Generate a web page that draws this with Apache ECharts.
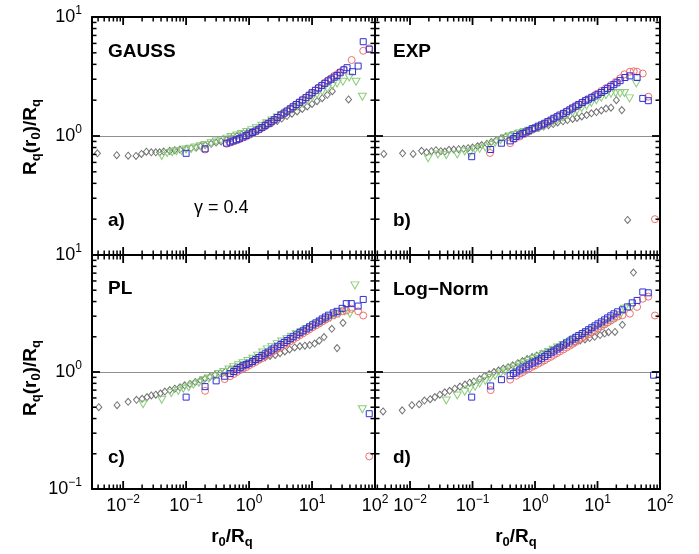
<!DOCTYPE html>
<html><head><meta charset="utf-8">
<script src="https://cdn.jsdelivr.net/npm/echarts@6/dist/echarts.min.js"></script>
<style>html,body{margin:0;padding:0;background:#fff}#c{width:699px;height:554px}</style>
</head><body><div id="c"></div>
<script>
// ---------------- data (x = r0/Rq, y = Rq(r0)/Rq) ----------------
const panelNames = ['GAUSS', 'EXP', 'PL', 'Log\u2212Norm'];
const panelTags = ['a)', 'b)', 'c)', 'd)'];
const gammaLabel = '\u03b3 = 0.4';
const xTickExponents = [-2, -1, 0, 1, 2];
const yTickExponents = [-1, 0, 1];

// Panel a) GAUSS
const gaussDiamond = [[0.0039,0.715],[0.0079,0.69],[0.012,0.683],[0.016,0.68],[0.0195,0.706],[0.0234,0.738],[0.028,0.73],[0.033,0.73],[0.038,0.73],[0.044,0.74],[0.055,0.75],[0.066,0.76],[0.08,0.77],[0.1,0.78],[0.12,0.79],[0.145,0.8],[0.17,0.82],[0.2,0.84],[0.25,0.86],[0.3,0.88],[0.36,0.9],[0.44,0.93],[0.52,0.96],[0.64,1.0],[0.76,1.03],[0.92,1.06],[1.1,1.08],[1.3,1.12],[1.6,1.17],[1.9,1.22],[2.3,1.28],[2.8,1.34],[3.3,1.4],[4.0,1.47],[4.8,1.54],[5.8,1.61],[7.0,1.69],[8.4,1.77],[10,1.86],[12,1.96],[14.5,2.08],[17.5,2.22],[21,2.38],[38,2.03]];
const gaussTriangle = [[0.041,0.68],[0.05,0.72],[0.06,0.73],[0.07,0.745],[0.085,0.75],[0.1,0.77],[0.12,0.78],[0.14,0.8],[0.17,0.82],[0.2,0.84],[0.25,0.87],[0.3,0.9],[0.36,0.92],[0.44,0.95],[0.52,0.98],[0.64,1.01],[0.76,1.04],[0.92,1.08],[1.1,1.12],[1.3,1.16],[1.6,1.22],[1.9,1.28],[2.3,1.35],[2.8,1.43],[3.3,1.5],[4.0,1.58],[4.8,1.67],[5.8,1.77],[7.0,1.88],[8.4,1.99],[10,2.1],[12,2.23],[14.5,2.37],[17.5,2.5],[21,2.64],[25,2.76],[31,2.86],[39,3.1],[50,2.86],[63,2.14]];
const gaussCircle = [[0.2,0.77],[0.44,0.86],[0.5,0.88],[0.56,0.9],[0.63,0.92],[0.7,0.94],[0.8,0.97],[0.9,0.99],[1.0,1.02],[1.13,1.05],[1.27,1.09],[1.43,1.13],[1.6,1.17],[1.8,1.21],[2.0,1.26],[2.25,1.31],[2.5,1.36],[2.8,1.42],[3.2,1.49],[3.6,1.55],[4.0,1.62],[4.5,1.69],[5.0,1.76],[5.6,1.84],[6.3,1.92],[7.1,2.0],[8.0,2.1],[9.0,2.2],[10,2.3],[11.3,2.42],[12.7,2.55],[14.3,2.67],[16,2.8],[18,2.93],[20,3.05],[22.5,3.2],[25,3.3],[28,3.45],[32,3.6],[42.6,4.35],[65,5.2],[81,5.45]];
const gaussSquare = [[0.1,0.715],[0.2,0.78],[0.44,0.87],[0.5,0.89],[0.56,0.91],[0.63,0.93],[0.7,0.95],[0.8,0.98],[0.9,1.01],[1.0,1.04],[1.13,1.07],[1.27,1.1],[1.43,1.14],[1.6,1.18],[1.8,1.23],[2.0,1.27],[2.25,1.32],[2.5,1.37],[2.8,1.43],[3.2,1.5],[3.6,1.56],[4.0,1.62],[4.5,1.69],[5.0,1.76],[5.6,1.84],[6.3,1.92],[7.1,2.01],[8.0,2.1],[9.0,2.2],[10,2.31],[11.3,2.42],[12.7,2.53],[14.3,2.65],[16,2.77],[18,2.9],[20,3.0],[22.5,3.12],[25,3.22],[28,3.4],[32,3.6],[36,3.75],[44,3.47],[54,3.87],[65,6.2],[81,5.36]];

// Panel b) EXP
const expDiamond = [[0.0038,0.706],[0.0076,0.715],[0.0112,0.706],[0.0153,0.75],[0.0184,0.73],[0.022,0.745],[0.026,0.76],[0.031,0.745],[0.036,0.74],[0.042,0.765],[0.05,0.77],[0.06,0.775],[0.072,0.78],[0.085,0.79],[0.1,0.8],[0.12,0.82],[0.14,0.84],[0.17,0.86],[0.2,0.89],[0.24,0.92],[0.29,0.96],[0.34,0.99],[0.4,1.01],[0.48,1.04],[0.57,1.06],[0.68,1.09],[0.8,1.11],[0.96,1.14],[1.15,1.17],[1.37,1.2],[1.64,1.23],[1.95,1.26],[2.3,1.3],[2.8,1.33],[3.3,1.36],[4.0,1.39],[4.7,1.42],[5.6,1.46],[6.7,1.5],[8.0,1.55],[9.6,1.59],[11.5,1.64],[13.7,1.7],[16.4,1.73],[20,2.0],[24.5,1.65],[30.3,0.197]];
const expTriangle = [[0.0195,0.65],[0.028,0.7],[0.038,0.69],[0.057,0.7],[0.075,0.74],[0.09,0.72],[0.11,0.77],[0.13,0.78],[0.16,0.8],[0.19,0.84],[0.23,0.88],[0.28,0.92],[0.33,0.96],[0.4,0.99],[0.48,1.02],[0.57,1.05],[0.68,1.08],[0.8,1.11],[0.96,1.14],[1.15,1.18],[1.37,1.22],[1.64,1.27],[1.95,1.32],[2.3,1.37],[2.8,1.43],[3.3,1.5],[4.0,1.57],[4.7,1.64],[5.6,1.72],[6.7,1.8],[8.0,1.9],[9.6,2.0],[11.5,2.1],[13.7,2.2],[16.4,2.27],[19.5,2.3],[23,2.28],[27,2.3],[32.5,2.07],[41.7,2.77]];
const expCircle = [[0.19,0.72],[0.4,0.87],[0.48,0.95],[0.57,0.99],[0.68,1.04],[0.8,1.09],[0.96,1.15],[1.15,1.2],[1.37,1.26],[1.64,1.32],[1.95,1.39],[2.3,1.46],[2.8,1.54],[3.3,1.62],[4.0,1.71],[4.7,1.8],[5.6,1.9],[6.7,2.01],[8.0,2.12],[9.6,2.25],[11.5,2.39],[13.7,2.53],[16.4,2.68],[19.5,2.85],[23,3.05],[27,3.3],[33,3.47],[38,3.5],[43,3.47],[53,3.35],[65,2.14],[83,0.2]];
const expSquare = [[0.097,0.67],[0.195,0.77],[0.29,0.87],[0.4,0.91],[0.45,0.95],[0.5,0.99],[0.57,1.02],[0.64,1.05],[0.72,1.08],[0.8,1.11],[0.9,1.15],[1.0,1.17],[1.13,1.21],[1.27,1.24],[1.43,1.28],[1.6,1.32],[1.8,1.36],[2.0,1.41],[2.25,1.45],[2.5,1.5],[2.85,1.55],[3.2,1.6],[3.6,1.66],[4.0,1.72],[4.5,1.78],[5.0,1.84],[5.7,1.91],[6.4,1.98],[7.2,2.04],[8.1,2.1],[9.1,2.17],[10.2,2.24],[11.5,2.32],[13,2.41],[14.5,2.5],[16.3,2.6],[18.3,2.7],[20.5,2.8],[23,2.92],[27.5,3.1],[33,3.2],[43,3.1],[53,2.07],[65,1.98]];

// Panel c) PL
const plDiamond = [[0.0041,0.5],[0.008,0.52],[0.012,0.556],[0.0163,0.578],[0.02,0.59],[0.024,0.61],[0.028,0.63],[0.033,0.64],[0.039,0.655],[0.046,0.68],[0.055,0.7],[0.066,0.72],[0.08,0.74],[0.095,0.77],[0.115,0.79],[0.14,0.82],[0.17,0.85],[0.2,0.88],[0.24,0.91],[0.29,0.95],[0.35,0.98],[0.42,1.01],[0.5,1.05],[0.6,1.08],[0.72,1.12],[0.86,1.16],[1.03,1.2],[1.24,1.25],[1.5,1.3],[1.8,1.34],[2.15,1.37],[2.6,1.4],[3.1,1.45],[3.7,1.5],[4.4,1.56],[5.3,1.62],[6.4,1.66],[7.7,1.68],[9.2,1.7],[11,1.75],[13,1.85],[15.5,1.99],[20.6,2.34],[25,1.6],[31,2.63]];
const plTriangle = [[0.0207,0.53],[0.041,0.58],[0.058,0.66],[0.075,0.69],[0.09,0.72],[0.11,0.74],[0.13,0.78],[0.16,0.81],[0.19,0.85],[0.23,0.88],[0.28,0.92],[0.33,0.96],[0.4,1.0],[0.48,1.05],[0.57,1.1],[0.68,1.14],[0.8,1.19],[0.96,1.24],[1.15,1.3],[1.37,1.38],[1.64,1.47],[1.95,1.56],[2.3,1.64],[2.8,1.73],[3.3,1.82],[4.0,1.91],[4.7,2.0],[5.6,2.1],[6.7,2.2],[8.0,2.31],[9.6,2.42],[11.5,2.55],[13.7,2.68],[16.4,2.8],[19.5,2.93],[23,3.05],[27,3.15],[33,3.3],[40,3.15],[48,5.5],[63,0.48]];
const plCircle = [[0.2,0.69],[0.41,0.87],[0.5,0.92],[0.57,0.96],[0.64,1.0],[0.72,1.04],[0.8,1.07],[0.9,1.1],[1.0,1.14],[1.13,1.18],[1.27,1.22],[1.43,1.27],[1.6,1.31],[1.8,1.36],[2.0,1.41],[2.25,1.46],[2.5,1.52],[2.85,1.58],[3.2,1.64],[3.6,1.7],[4.0,1.77],[4.5,1.83],[5.0,1.9],[5.7,1.98],[6.4,2.06],[7.2,2.14],[8.1,2.23],[9.1,2.32],[10.2,2.41],[11.5,2.5],[13,2.6],[14.5,2.7],[16.3,2.8],[18.3,2.9],[21.7,3.05],[25,3.15],[30,3.3],[35,3.35],[42,3.47],[54,3.3],[65,3.04],[81,0.19]];
const plSquare = [[0.1,0.61],[0.2,0.75],[0.3,0.84],[0.41,0.92],[0.5,0.97],[0.57,1.01],[0.64,1.05],[0.72,1.09],[0.8,1.13],[0.9,1.16],[1.0,1.19],[1.13,1.23],[1.27,1.28],[1.43,1.33],[1.6,1.38],[1.8,1.43],[2.0,1.48],[2.25,1.54],[2.5,1.6],[2.85,1.66],[3.2,1.72],[3.6,1.79],[4.0,1.86],[4.5,1.93],[5.0,2.0],[5.7,2.08],[6.4,2.17],[7.2,2.25],[8.1,2.34],[9.1,2.43],[10.2,2.53],[11.5,2.63],[13,2.73],[14.5,2.84],[16.3,2.95],[18.3,3.06],[21.7,3.2],[25,3.3],[30,3.5],[35,3.84],[42,3.84],[54,3.66],[65,4.17],[81,0.44]];

// Panel d) Log-Norm
const lnDiamond = [[0.0037,0.46],[0.0075,0.47],[0.0107,0.52],[0.014,0.53],[0.017,0.57],[0.021,0.585],[0.025,0.61],[0.03,0.64],[0.036,0.67],[0.043,0.69],[0.052,0.72],[0.063,0.75],[0.076,0.78],[0.09,0.81],[0.105,0.83],[0.13,0.87],[0.155,0.92],[0.185,0.96],[0.22,1.0],[0.26,1.03],[0.31,1.07],[0.37,1.1],[0.44,1.14],[0.53,1.19],[0.63,1.24],[0.75,1.29],[0.9,1.34],[1.07,1.38],[1.28,1.43],[1.53,1.48],[1.83,1.54],[2.2,1.6],[2.6,1.65],[3.1,1.7],[3.7,1.75],[4.4,1.8],[5.3,1.86],[6.3,1.9],[7.5,1.95],[9,2.0],[11,2.07],[13,2.13],[15,2.19],[19,2.2],[25,2.53],[37.6,7.08]];
const lnTriangle = [[0.038,0.57],[0.057,0.63],[0.075,0.68],[0.09,0.71],[0.11,0.75],[0.13,0.8],[0.16,0.84],[0.19,0.89],[0.23,0.93],[0.28,0.97],[0.33,1.01],[0.4,1.05],[0.48,1.1],[0.57,1.14],[0.68,1.19],[0.8,1.24],[0.96,1.29],[1.15,1.35],[1.37,1.42],[1.64,1.48],[1.95,1.55],[2.3,1.62],[2.8,1.7],[3.3,1.78],[4.0,1.87],[4.7,1.95],[5.6,2.04],[6.7,2.14],[8.0,2.25],[9.6,2.36],[11.5,2.48],[13.7,2.62],[16.4,2.76],[19.5,2.9],[23,3.05],[27,3.47],[35,3.6]];
const lnCircle = [[0.195,0.7],[0.4,0.86],[0.5,0.93],[0.57,0.97],[0.64,1.0],[0.72,1.04],[0.8,1.07],[0.9,1.11],[1.0,1.14],[1.13,1.18],[1.27,1.22],[1.43,1.26],[1.6,1.31],[1.8,1.35],[2.0,1.4],[2.25,1.45],[2.5,1.5],[2.85,1.56],[3.2,1.62],[3.6,1.68],[4.0,1.74],[4.5,1.81],[5.0,1.88],[5.7,1.95],[6.4,2.03],[7.2,2.1],[8.1,2.19],[9.1,2.27],[10.2,2.36],[11.5,2.45],[13,2.55],[14.5,2.65],[16.3,2.75],[18.3,2.86],[21,2.98],[25,3.05],[33,3.15],[43,3.6],[53,4.23],[65,4.4],[83,3.04]];
const lnSquare = [[0.097,0.61],[0.195,0.76],[0.29,0.86],[0.4,0.93],[0.45,0.97],[0.5,1.0],[0.57,1.04],[0.64,1.08],[0.72,1.11],[0.8,1.15],[0.9,1.19],[1.0,1.22],[1.13,1.26],[1.27,1.31],[1.43,1.36],[1.6,1.41],[1.8,1.46],[2.0,1.51],[2.25,1.57],[2.5,1.63],[2.85,1.7],[3.2,1.77],[3.6,1.84],[4.0,1.91],[4.5,1.98],[5.0,2.05],[5.7,2.13],[6.4,2.21],[7.2,2.3],[8.1,2.39],[9.1,2.48],[10.2,2.58],[11.5,2.68],[13,2.79],[14.5,2.9],[16.3,3.02],[18.3,3.14],[21,3.27],[25,3.4],[30,3.6],[36,3.9],[43,4.09],[53,4.83],[65,4.75],[79,0.94]];

const panelSeries = [
  [gaussDiamond, gaussTriangle, gaussCircle, gaussSquare],
  [expDiamond, expTriangle, expCircle, expSquare],
  [plDiamond, plTriangle, plCircle, plSquare],
  [lnDiamond, lnTriangle, lnCircle, lnSquare]
];

// ---------------- layout & style ----------------
const FONT = 'Liberation Sans, Arial, Helvetica, sans-serif';
const grids = [
  {left: 92, top: 17, width: 283, height: 238},
  {left: 375, top: 17, width: 285, height: 238},
  {left: 92, top: 255, width: 283, height: 234},
  {left: 375, top: 255, width: 285, height: 234}
];
const xMins = [0.0032, 0.00275, 0.0032, 0.00275];
const X_MAX = 100, Y_MIN = 0.1, Y_MAX = 10;
const markerStyles = [
  {symbol: 'diamond', size: [6, 7], rotate: 0, color: '#727272'},
  {symbol: 'triangle', size: [8, 7], rotate: 180, color: '#8ccc7c'},
  {symbol: 'circle', size: 7, rotate: 0, color: '#ef7070'},
  {symbol: 'rect', size: 6, rotate: 0, color: '#3030d4'}
];

function expOf(v) {
  const l = Math.log10(v);
  const e = Math.round(l);
  return Math.abs(l - e) < 1e-6 ? e : null;
}
function powLabel(e) {
  return '{b|10}{s|' + (e < 0 ? '\u2212' + (-e) : String(e)) + '}';
}
const labelRich = {
  b: {fontSize: 18, fontFamily: FONT, color: '#000', lineHeight: 24},
  s: {fontSize: 12, fontFamily: FONT, color: '#000', verticalAlign: 'top', lineHeight: 12}
};

function baseAxis(gridIndex, position, min, max) {
  return {
    type: 'log', logBase: 10, gridIndex: gridIndex, position: position,
    min: min, max: max,
    axisLine: {show: true, onZero: false, lineStyle: {color: '#000', width: 2}},
    axisTick: {show: false}, minorTick: {show: false},
    splitLine: {show: false}, minorSplitLine: {show: false},
    axisLabel: {show: false}
  };
}

const xAxis = [], yAxis = [];
for (let g = 0; g < 4; g++) {
  const xb = baseAxis(g, 'bottom', xMins[g], X_MAX);
  if (g >= 2) {
    xb.axisLabel = {
      show: true, margin: 5, rich: labelRich,
      formatter: function (v) { const e = expOf(v); return (e !== null && xTickExponents.indexOf(e) >= 0) ? powLabel(e) : ''; }
    };
  }
  xAxis.push(xb);
  xAxis.push(baseAxis(g, 'top', xMins[g], X_MAX));
  const yl = baseAxis(g, 'left', Y_MIN, Y_MAX);
  if (g === 0 || g === 2) {
    const topRow = g === 0;
    yl.axisLabel = {
      show: true, margin: 10, rich: labelRich,
      formatter: function (v) {
        const e = expOf(v);
        if (e === null || yTickExponents.indexOf(e) < 0) return '';
        if (topRow && e < 0) return '';
        return powLabel(e);
      }
    };
  }
  yAxis.push(yl);
  yAxis.push(baseAxis(g, 'right', Y_MIN, Y_MAX));
}

// log tick positions (1..9 x 10^k) within [min, max]
function logTicks(min, max) {
  const out = [];
  for (let e = Math.floor(Math.log10(min)); e <= Math.ceil(Math.log10(max)); e++) {
    for (let m = 1; m <= 9; m++) {
      const v = m * Math.pow(10, e);
      if (v >= min * 0.9999 && v <= max * 1.0001) out.push({v: v, major: m === 1});
    }
  }
  return out;
}

const series = [];
panelSeries.forEach(function (sets, g) {
  sets.forEach(function (data, k) {
    const m = markerStyles[k];
    const s = {
      type: 'scatter', xAxisIndex: 2 * g, yAxisIndex: 2 * g, data: data,
      symbol: m.symbol, symbolSize: m.size, symbolRotate: m.rotate,
      itemStyle: {color: 'rgba(0,0,0,0)', borderColor: m.color, borderWidth: 1, opacity: 1},
      emphasis: {disabled: true}, silent: true, z: 2 + k
    };
    if (k === 0) {
      s.markLine = {
        silent: true, symbol: 'none', label: {show: false}, animation: false,
        lineStyle: {color: '#909090', width: 1, type: 'solid'},
        data: [{yAxis: 1}]
      };
    }
    series.push(s);
  });
  // inward tick marks on all four sides, placed through the axes' scales
  const xmin = xMins[g];
  const tickData = [];
  logTicks(xmin, X_MAX).forEach(function (t) { tickData.push([t.v, 1, t.major ? 0 : 1]); });
  logTicks(Y_MIN, Y_MAX).forEach(function (t) { tickData.push([1, t.v, t.major ? 2 : 3]); });
  series.push({
    type: 'custom', xAxisIndex: 2 * g, yAxisIndex: 2 * g, data: tickData, clip: false, silent: true, z: 20,
    encode: {x: 0, y: 1},
    renderItem: function (params, api) {
      const kind = api.value(2);
      const major = (kind === 0 || kind === 2);
      const len = major ? 8 : 4.5;
      const st = {stroke: '#000', lineWidth: major ? 1.8 : 1.5};
      let a, b;
      if (kind < 2) {
        const v = api.value(0);
        const p1 = api.coord([v, Y_MIN]);
        const p2 = api.coord([v, Y_MAX]);
        a = {x1: p1[0], y1: p1[1], x2: p1[0], y2: p1[1] - len};
        b = {x1: p2[0], y1: p2[1], x2: p2[0], y2: p2[1] + len};
      } else {
        const v = api.value(1);
        const p1 = api.coord([xmin, v]);
        const p2 = api.coord([X_MAX, v]);
        a = {x1: p1[0], y1: p1[1], x2: p1[0] + len, y2: p1[1]};
        b = {x1: p2[0], y1: p2[1], x2: p2[0] - len, y2: p2[1]};
      }
      return {type: 'group', children: [
        {type: 'line', shape: a, style: st},
        {type: 'line', shape: b, style: st}
      ]};
    }
  });
});

const boldTxt = function (x, y, text, size) {
  return {type: 'text', x: x, y: y, silent: true,
    style: {text: text, fontFamily: FONT, fontWeight: 'bold', fontSize: size, fill: '#000', align: 'left', verticalAlign: 'middle'}};
};
const titleRich = {
  r: {fontSize: 19, fontWeight: 'bold', fontFamily: FONT, fill: '#000', lineHeight: 24},
  q: {fontSize: 13, fontWeight: 'bold', fontFamily: FONT, fill: '#000', verticalAlign: 'bottom', lineHeight: 12}
};
const yTitle = function (cy) {
  return {type: 'text', x: 31, y: cy, rotation: Math.PI / 2, silent: true,
    style: {text: '{r|R}{q|q}{r|(r}{q|0}{r|)/R}{q|q}', align: 'center', verticalAlign: 'middle', rich: titleRich}};
};
const xTitle = function (cx) {
  return {type: 'text', x: cx, y: 537, silent: true,
    style: {text: '{r|r}{q|0}{r|/R}{q|q}', align: 'center', verticalAlign: 'middle', rich: titleRich}};
};

const graphic = [
  boldTxt(108, 52, panelNames[0], 19), boldTxt(393, 52, panelNames[1], 19),
  boldTxt(108, 289, panelNames[2], 19), boldTxt(393, 290, panelNames[3], 19),
  boldTxt(108, 221, panelTags[0], 19), boldTxt(393, 221, panelTags[1], 19),
  boldTxt(108, 458, panelTags[2], 19), boldTxt(393, 458, panelTags[3], 19),
  {type: 'text', x: 194, y: 208, silent: true,
    style: {text: gammaLabel, fontFamily: FONT, fontSize: 18, fill: '#000', align: 'left', verticalAlign: 'middle'}},
  yTitle(137), yTitle(378), xTitle(232), xTitle(516)
];

const chart = echarts.init(document.getElementById('c'), null, {renderer: 'canvas'});
chart.setOption({
  animation: false,
  backgroundColor: '#ffffff',
  grid: grids.map(function (g) { return Object.assign({containLabel: false, show: false}, g); }),
  xAxis: xAxis, yAxis: yAxis, series: series, graphic: graphic
});
</script></body></html>
